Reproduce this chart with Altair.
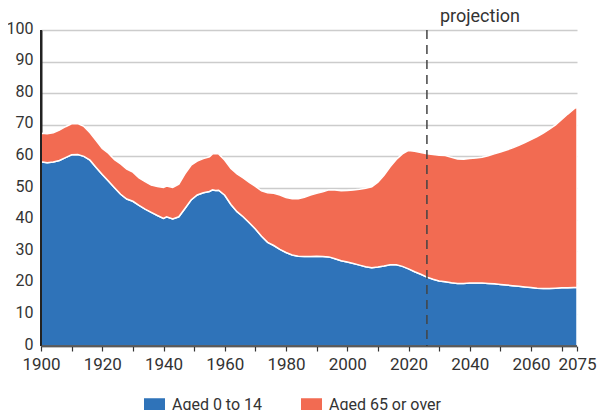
import altair as alt
import pandas as pd

years = [1900, 1902, 1904, 1906, 1908, 1910, 1912, 1914, 1916, 1918, 1920, 1922, 1924, 1926, 1928,
         1930, 1932, 1934, 1936, 1938, 1940, 1941, 1943, 1945, 1947, 1949, 1951, 1953, 1955, 1956,
         1957, 1958, 1960, 1962, 1964, 1966, 1968, 1970, 1972, 1974, 1976, 1978, 1980, 1982, 1984,
         1986, 1988, 1990, 1992, 1994, 1996, 1998, 2000, 2002, 2004, 2006, 2008, 2010, 2012, 2014,
         2016, 2018, 2020, 2022, 2024, 2026, 2028, 2030, 2032, 2034, 2036, 2038, 2040, 2042, 2044,
         2046, 2048, 2050, 2052, 2054, 2056, 2058, 2060, 2062, 2064, 2066, 2068, 2070, 2072, 2074, 2075]

# ratio of people aged 0 to 14
young = [58.3, 58.0, 58.2, 58.7, 59.6, 60.5, 60.6, 60.0, 58.8, 56.5, 54.3, 52.2, 50.1, 48.0, 46.5,
         45.8, 44.5, 43.3, 42.3, 41.3, 40.4, 40.9, 40.2, 40.9, 43.5, 46.2, 47.8, 48.5, 48.9, 49.4,
         49.2, 49.3, 47.7, 44.8, 42.5, 40.9, 39.0, 37.0, 34.7, 32.8, 31.8, 30.6, 29.6, 28.8, 28.4,
         28.3, 28.3, 28.4, 28.3, 28.2, 27.6, 27.0, 26.6, 26.1, 25.6, 25.1, 24.8, 25.0, 25.3, 25.7,
         25.7, 25.2, 24.4, 23.5, 22.7, 21.8, 21.1, 20.6, 20.3, 20.0, 19.8, 19.8, 19.9, 19.9, 19.9,
         19.8, 19.7, 19.5, 19.3, 19.1, 18.9, 18.7, 18.5, 18.3, 18.2, 18.2, 18.3, 18.4, 18.4, 18.5, 18.5]

# total dependency (aged 0 to 14 plus aged 65 or over)
total = [67.3, 67.2, 67.5, 68.3, 69.4, 70.3, 70.4, 69.5, 67.5, 65.0, 62.5, 61.0, 59.0, 57.6, 56.0,
         55.0, 53.2, 52.0, 50.9, 50.5, 50.2, 50.6, 50.2, 51.2, 54.5, 57.2, 58.5, 59.3, 59.9, 60.8,
         60.9, 60.8, 58.8, 56.2, 54.5, 53.2, 51.8, 50.5, 49.1, 48.5, 48.3, 47.8, 47.0, 46.6, 46.6,
         47.1, 47.8, 48.3, 48.8, 49.4, 49.4, 49.1, 49.2, 49.4, 49.6, 49.9, 50.4, 51.8, 54.0, 56.7,
         59.0, 60.8, 61.9, 61.6, 61.2, 60.8, 60.6, 60.4, 60.3, 59.7, 59.2, 59.1, 59.3, 59.5, 59.7,
         60.2, 60.8, 61.4, 62.0, 62.7, 63.5, 64.4, 65.3, 66.3, 67.4, 68.6, 70.0, 71.7, 73.4, 75.0, 75.7]

series_names = ["Aged 0 to 14", "Aged 65 or over"]
series_colors = ["#2f73b9", "#f26b52"]
projection_start = [2026]
projection_label = ["projection"]
x_ticks = [1900, 1910, 1920, 1930, 1940, 1950, 1960, 1970, 1980, 1990, 2000, 2010, 2020,
           2030, 2040, 2050, 2060, 2070, 2075]
y_ticks = [0, 10, 20, 30, 40, 50, 60, 70, 80, 90, 100]

FONT = "Roboto"
W, H = 536, 316

old = [round(t - y, 2) for t, y in zip(total, young)]
long_df = pd.DataFrame({
    "year": years + years,
    "value": young + old,
    "series": [series_names[0]] * len(years) + [series_names[1]] * len(years),
    "ord": [0] * len(years) + [1] * len(years),
})
proj = pd.DataFrame({"year": projection_start, "label": projection_label})

xscale = alt.Scale(domain=[1900, 2075], nice=False, zero=False)
yscale = alt.Scale(domain=[0, 100], nice=False)
cscale = alt.Scale(domain=series_names, range=series_colors)

xaxis = alt.Axis(values=x_ticks, title=None, grid=False,
                 labelExpr="(datum.value % 20 == 0 || datum.value == 2075) ? datum.label : ''",
                 format="d", labelOverlap=False, labelFont=FONT, labelFontSize=17,
                 labelColor="#333", domainColor="#333", domainWidth=1.5, tickColor="#333",
                 tickWidth=1.2, tickSize=5, labelPadding=5, labelFlush=False)
yaxis = alt.Axis(values=y_ticks, title=None, grid=True, gridColor="#cccccc", gridWidth=1.3,
                 labelOverlap=False, ticks=False, labelFont=FONT, labelFontSize=16,
                 labelColor="#333", domainColor="#222", domainWidth=2, labelPadding=8,
                 labelOffset=-2)

legend = alt.Legend(title=None, orient="none", legendX=103, legendY=364, direction="horizontal",
                    symbolType="M-1,-0.62H1V0.62H-1Z", symbolSize=441, symbolStrokeWidth=0,
                    symbolOpacity=1, labelFont=FONT, labelFontSize=16, labelColor="#333",
                    labelOffset=7, columnPadding=38)

areas = alt.Chart(long_df).mark_area(opacity=1, stroke="white", strokeWidth=1.5).encode(
    x=alt.X("year:Q", scale=xscale, axis=xaxis),
    y=alt.Y("value:Q", scale=yscale, axis=yaxis, stack="zero"),
    color=alt.Color("series:N", scale=cscale, legend=legend),
    order=alt.Order("ord:Q", sort="ascending"),
)
proj_rule = alt.Chart(proj).mark_rule(color="#444", strokeWidth=1.5, strokeDash=[9, 6]).encode(
    x=alt.X("year:Q", scale=xscale, axis=xaxis),
    y=alt.value(0),
    y2=alt.value(H),
)
proj_text = alt.Chart(proj).mark_text(align="left", baseline="alphabetic", dx=13, font=FONT,
                                      fontSize=18, color="#333").encode(
    x=alt.X("year:Q", scale=xscale, axis=xaxis),
    y=alt.value(-8),
    text="label:N",
)
# axis lines drawn on top of the areas
y_domain = alt.Chart(proj).mark_rule(color="#222", strokeWidth=2).encode(
    x=alt.value(0), y=alt.value(0), y2=alt.value(H),
)
x_domain = alt.Chart(proj).mark_rule(color="#333", strokeWidth=1.5).encode(
    x=alt.value(0), x2=alt.value(W), y=alt.value(H),
)

chart = alt.layer(areas, proj_rule, proj_text, y_domain, x_domain).properties(
    width=W, height=H,
    autosize=alt.AutoSizeParams(type="none"),
    padding={"left": 33, "top": 22, "right": 21, "bottom": 64},
).configure_view(stroke=None)

chart.save("out.html", embed_options={"renderer": "svg", "actions": False})
